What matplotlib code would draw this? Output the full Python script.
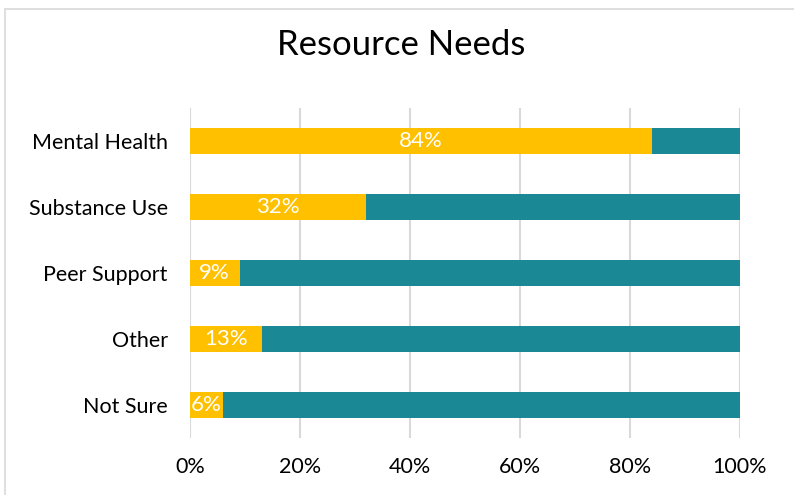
import matplotlib.pyplot as plt
from matplotlib.patches import Rectangle
from matplotlib.ticker import FuncFormatter

categories = ["Mental Health", "Substance Use", "Peer Support", "Other", "Not Sure"]
yes_pct = [84, 32, 9, 13, 6]
no_pct = [16, 68, 91, 87, 94]

plt.rcParams['font.family'] = ['Lato', 'DejaVu Sans']

fig = plt.figure(figsize=(7.94, 4.95), dpi=100)
ax = fig.add_axes([190 / 794, 1 - 438 / 495, 550 / 794, 330 / 495])

# chart border
fig.patches.append(Rectangle((5 / 794, -0.05), 1.2, 1 - 9 / 495 + 0.05,
                             transform=fig.transFigure, fill=False,
                             edgecolor='#D9D9D9', linewidth=1.2))

y = list(range(len(categories)))
ax.barh(y, [v / 100 for v in yes_pct], height=0.4, color='#FFC000', zorder=3)
ax.barh(y, [v / 100 for v in no_pct], left=[v / 100 for v in yes_pct],
        height=0.4, color='#1B8995', zorder=3)

for yi, v in zip(y, yes_pct):
    ax.text(v / 200, yi, f"{v}%", ha='center', va='center', color='white',
            fontsize=16, zorder=4)

ax.set_ylim(len(categories) - 0.5, -0.5)
ax.set_xlim(0, 1)
ax.set_yticks(y)
ax.set_yticklabels(categories, fontsize=15.5)
ax.set_xticks([0, 0.2, 0.4, 0.6, 0.8, 1.0])
ax.xaxis.set_major_formatter(FuncFormatter(lambda x, pos: f"{x * 100:.0f}%"))
ax.tick_params(axis='x', labelsize=15.5, length=0, pad=14)
ax.tick_params(axis='y', length=0, pad=16)
ax.grid(axis='x', color='#D9D9D9', linewidth=1.5, zorder=0)
for s in ax.spines.values():
    s.set_visible(False)

fig.text(0.505, 1 - 45 / 495, "Resource Needs", ha='center', va='center',
         fontsize=25)

fig.savefig("out.png", dpi=100)
